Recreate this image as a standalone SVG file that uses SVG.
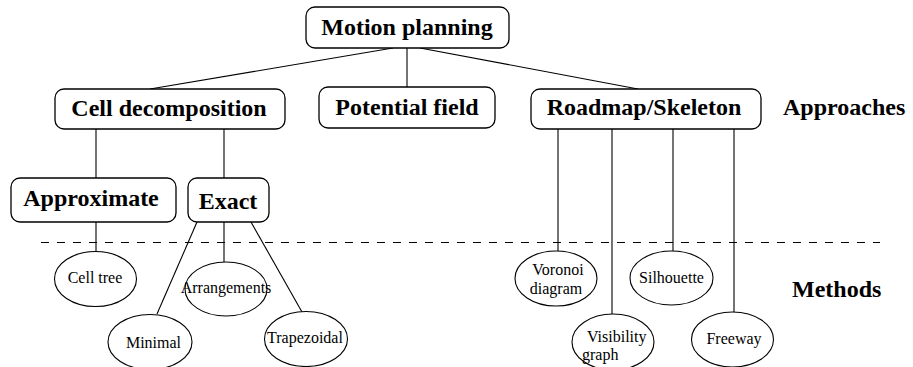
<svg xmlns="http://www.w3.org/2000/svg" width="913" height="367" viewBox="0 0 913 367">
<style>
.box{fill:#fff;stroke:#000;stroke-width:1.3}
.ell{fill:#fff;stroke:#000;stroke-width:1.1}
.big{font-family:"Liberation Serif","Times New Roman",serif;font-weight:bold;font-size:24px;fill:#000}
.sm{font-family:"Liberation Serif","Times New Roman",serif;font-size:16px;fill:#000}
.c{text-anchor:middle}
#connectors line{stroke:#000;stroke-width:1.1}
#connectors line.dash{stroke-width:1.2;stroke-dasharray:8 8;stroke-dashoffset:8}
</style>
<rect width="913" height="367" fill="#fff"/>
<g id="connectors">
<line x1="393" y1="48" x2="150" y2="89"/>
<line x1="407" y1="48" x2="407" y2="87"/>
<line x1="420" y1="48" x2="638" y2="89"/>
<line x1="96" y1="129" x2="96" y2="178"/>
<line x1="224" y1="129" x2="224" y2="178"/>
<line x1="96" y1="222" x2="96" y2="252"/>
<line x1="197" y1="222" x2="157" y2="314"/>
<line x1="224" y1="222" x2="224" y2="262"/>
<line x1="251" y1="222" x2="302" y2="312"/>
<line x1="558" y1="129" x2="558" y2="251"/>
<line x1="612" y1="129" x2="612" y2="315"/>
<line x1="673" y1="129" x2="673" y2="251"/>
<line x1="734" y1="129" x2="734" y2="312"/>
<line class="dash" x1="33" y1="242.5" x2="880" y2="242.5"/>
</g>
<g id="motion"><rect class="box" x="306" y="7" width="203" height="41" rx="9"/><text class="big c" x="407" y="35">Motion planning</text></g>
<g id="cell"><rect class="box" x="55" y="89" width="230" height="40" rx="9"/><text class="big c" x="169" y="116">Cell decomposition</text></g>
<g id="potential"><rect class="box" x="319" y="87" width="176" height="41" rx="9"/><text class="big c" x="407" y="115">Potential field</text></g>
<g id="roadmap"><rect class="box" x="531" y="89" width="230" height="40" rx="9"/><text class="big c" x="644" y="115">Roadmap/Skeleton</text></g>
<g id="approaches"><text class="big" x="783" y="115">Approaches</text></g>
<g id="approximate"><rect class="box" x="11" y="178" width="165" height="44" rx="9"/><text class="big c" x="91" y="206">Approximate</text></g>
<g id="exact"><rect class="box" x="188" y="178" width="81" height="44" rx="9"/><text class="big c" x="228" y="209">Exact</text></g>
<g id="celltree"><ellipse class="ell" cx="95.5" cy="279" rx="41" ry="27.5"/><text class="sm c" x="95" y="283">Cell tree</text></g>
<g id="arrangements"><ellipse class="ell" cx="226" cy="289" rx="41" ry="27"/><text class="sm c" x="226" y="293">Arrangements</text></g>
<g id="minimal"><ellipse class="ell" cx="150" cy="342" rx="42" ry="27.5"/><text class="sm c" x="153.5" y="348">Minimal</text></g>
<g id="trapezoidal"><ellipse class="ell" cx="306" cy="339" rx="41.5" ry="27.5"/><text class="sm c" x="305" y="343">Trapezoidal</text></g>
<g id="voronoi"><ellipse class="ell" cx="556" cy="278.5" rx="41" ry="27.5"/><text class="sm c" x="558" y="275">Voronoi</text><text class="sm c" x="556" y="294">diagram</text></g>
<g id="visibility"><ellipse class="ell" cx="613" cy="342" rx="41" ry="28"/><text class="sm" x="587" y="342">Visibility</text><text class="sm" x="582" y="360">graph</text></g>
<g id="silhouette"><ellipse class="ell" cx="671.5" cy="278" rx="41.5" ry="27"/><text class="sm c" x="671.5" y="283">Silhouette</text></g>
<g id="freeway"><ellipse class="ell" cx="732.5" cy="339.5" rx="41" ry="27.5"/><text class="sm c" x="734" y="344">Freeway</text></g>
<g id="methods"><text class="big" x="792" y="297">Methods</text></g>
</svg>
